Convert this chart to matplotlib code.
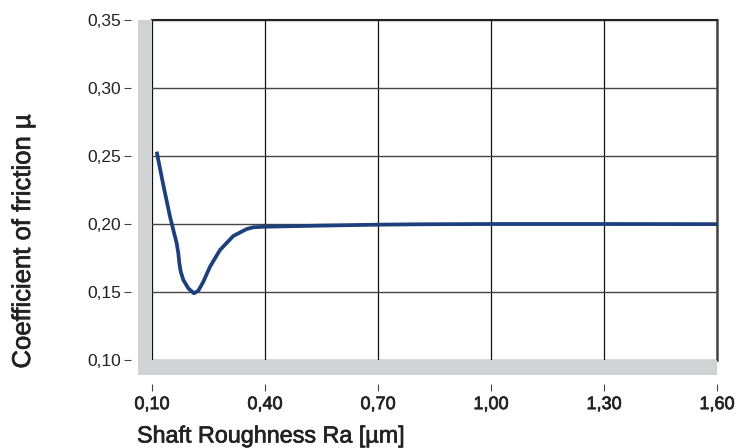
import numpy as np
import matplotlib
matplotlib.use("Agg")
import matplotlib.pyplot as plt
import matplotlib.patheffects as pe
from matplotlib.patches import Rectangle
from matplotlib.ticker import FuncFormatter

plt.rcParams['font.family'] = ['Liberation Sans', 'DejaVu Sans']

# shaft roughness Ra [um] and friction coefficient
roughness = [0.1124, 0.130, 0.1478, 0.1655, 0.1699, 0.1726, 0.1762, 0.1832, 0.1965, 0.2115,
             0.2230, 0.2363, 0.254, 0.2805, 0.3159, 0.3514, 0.369, 0.40, 0.546, 0.701,
             0.8115, 1.00, 1.30, 1.60]
friction = [0.2532, 0.2287, 0.2054, 0.1858, 0.1785, 0.1711, 0.1650, 0.1588, 0.1527, 0.1490,
            0.1510, 0.1576, 0.1686, 0.1809, 0.1912, 0.1963, 0.1976, 0.1980, 0.1988, 0.1995,
            0.1998, 0.2000, 0.2000, 0.1999]

x_ticks = [0.10, 0.40, 0.70, 1.00, 1.30, 1.60]
y_ticks = [0.10, 0.15, 0.20, 0.25, 0.30, 0.35]

W, H = 737, 448
fig = plt.figure(figsize=(W / 100, H / 100), dpi=100)
# data area in pixels: x 152..717, y 20..360
ax = fig.add_axes([152 / W, 1 - 360 / H, (717 - 152) / W, (360 - 20) / H])

ax.plot(roughness, friction, color='#1d3f7c', lw=2.7, solid_capstyle='butt',
        solid_joinstyle='round', zorder=3)

ax.set_xlim(0.10, 1.60)
ax.set_ylim(0.10, 0.35)
ax.set_xticks(x_ticks)
ax.set_yticks(y_ticks)
comma = FuncFormatter(lambda v, p: f"{v:.2f}".replace('.', ','))
ax.xaxis.set_major_formatter(comma)
ax.yaxis.set_major_formatter(comma)

ax.xaxis.grid(True, color='#111111', lw=0.9)
ax.yaxis.grid(True, color='#444444', lw=1.0)
ax.set_axisbelow(True)

for s in ['left', 'bottom']:
    ax.spines[s].set_visible(False)
ax.spines['bottom'].set_position(('outward', 17))
ax.spines['left'].set_position(('outward', 15))
ax.spines['top'].set_color('#222222')
ax.spines['top'].set_linewidth(1.5)
ax.spines['right'].set_color('#444444')
ax.spines['right'].set_linewidth(1.8)

ax.tick_params(axis='both', colors='#444444', length=5, width=0.8, labelcolor='#222222')
ax.tick_params(axis='x', pad=4, labelsize=13)
ax.tick_params(axis='y', pad=2, labelsize=12.5)
medium = [pe.withStroke(linewidth=0.5, foreground='#222222')]
for t in ax.get_xticklabels():
    t.set_path_effects(medium)

# grey bands along the left and bottom
px = 1 / (717 - 152)
py = 1 / (360 - 20)
ax.add_patch(Rectangle((-14 * px, -15 * py), 14 * px, 1 + 15 * py, transform=ax.transAxes,
                       facecolor='#d1d2d4', edgecolor='none', clip_on=False, zorder=4))
ax.add_patch(Rectangle((-14 * px, -15 * py), 1 + 14 * px, 15 * py, transform=ax.transAxes,
                       facecolor='#d1d2d4', edgecolor='none', clip_on=False, zorder=4))

fig.text(137 / W, 1 - 436 / H, 'Shaft Roughness Ra [µm]', fontsize=16.8,
         color='#222222', ha='left', va='center', path_effects=medium)
fig.text(23 / W, 1 - 241 / H, 'Coefficient of friction µ', fontsize=18.5,
         color='#222222', ha='center', va='center', rotation=90, path_effects=medium)

fig.savefig('out.png', dpi=100)
